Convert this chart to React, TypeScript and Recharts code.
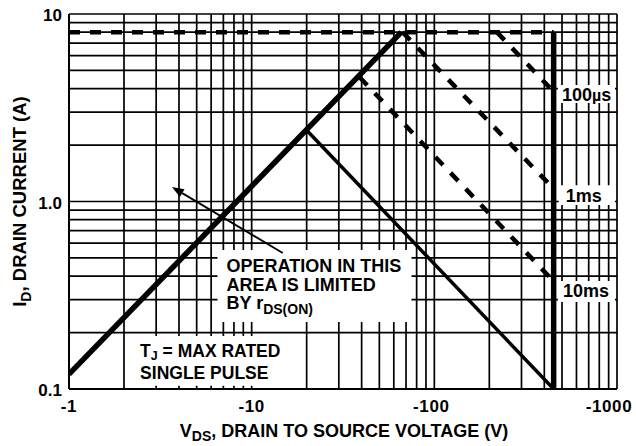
import React from "react";
import {
  LineChart,
  Line,
  XAxis,
  YAxis,
  CartesianGrid,
  ReferenceArea,
  ReferenceLine,
  Label,
} from "recharts";

const FONT = "'Liberation Sans', Arial, Helvetica, sans-serif";

// log grid ticks
const VDS_TICKS = [1, 2, 3, 4, 5, 6, 7, 8, 9, 10, 20, 30, 40, 50, 60, 70, 80, 90, 100, 200, 300, 400, 500, 600, 700, 800, 900, 1000];
const ID_TICKS = [0.1, 0.2, 0.3, 0.4, 0.5, 0.6, 0.7, 0.8, 0.9, 1, 2, 3, 4, 5, 6, 7, 8, 9, 10];
const VDS_LABELS: Record<number, string> = { 1: "-1", 10: "-10", 100: "-100", 1000: "-1000" };
const ID_LABELS: Record<number, string> = { 0.1: "0.1", 1: "1.0", 10: "10" };

// boundaries, |VDS| in volts and ID in amps
const LIMIT_V = [1, 450];
const LIMIT_I = [8, 8];
const BVDSS_V = [450, 450];
const BVDSS_I = [8, 0.1];
const RDSON_V = [1, 66];
const RDSON_I = [0.12, 8];
const DC_V = [20, 450];
const DC_I = [2.4, 0.1];
const P100US_V = [220, 450];
const P100US_I = [8, 3.85];
const P1MS_V = [67, 450];
const P1MS_I = [8, 1.17];
const P10MS_V = [39, 450];
const P10MS_I = [4.6, 0.375];

const toPoints = (v: number[], i: number[]) => v.map((x, k) => ({ v: x, i: i[k] }));

const txt = { fontFamily: FONT, fontWeight: 700, fill: "#000" };

function XTick(p: any) {
  const val = p.payload.value;
  const s = VDS_LABELS[val];
  if (!s) return null;
  const shift = val === 1000 ? -8 : val === 100 ? -3 : 0;
  return (
    <text x={p.x + shift} y={p.y + 3} dy="0.71em" textAnchor="middle" fontSize={17} letterSpacing={0.6} {...txt}>
      {s}
    </text>
  );
}

function YTick(p: any) {
  const val = p.payload.value;
  const s = ID_LABELS[val];
  if (!s) return null;
  return (
    <text x={p.x + 1} y={p.y + 1} dy="0.355em" textAnchor="end" fontSize={17} {...txt}>
      {s}
    </text>
  );
}

const boxLines = (lines: React.ReactNode[], dx: number, dy0: number, step: number, size: number) => (props: any) => {
  const vb = props.viewBox || props;
  return (
    <text fontSize={size} {...txt}>
      {lines.map((l, k) => (
        <tspan key={k} x={vb.x + dx} y={vb.y + dy0 + k * step}>
          {l}
        </tspan>
      ))}
    </text>
  );
};

function Arrow(p: any) {
  const { x1, y1, x2, y2 } = p;
  const a = Math.atan2(y2 - y1, x2 - x1);
  const len = 12;
  const w = 4.5;
  const bx = x2 - len * Math.cos(a);
  const by = y2 - len * Math.sin(a);
  const nx = -Math.sin(a) * w;
  const ny = Math.cos(a) * w;
  return (
    <g>
      <line x1={x1} y1={y1} x2={bx} y2={by} stroke="#000" strokeWidth={1.8} />
      <polygon points={`${x2},${y2} ${bx + nx},${by + ny} ${bx - nx},${by - ny}`} fill="#000" />
    </g>
  );
}

export default function App() {
  return (
    <div style={{ position: "absolute", left: 0, top: 0, background: "#fff" }}>
      <LineChart width={636} height={446} margin={{ top: 14, right: 19, left: 0, bottom: 27 }}>
        <CartesianGrid stroke="#000" strokeWidth={1.7} />
        <XAxis
          dataKey="v"
          type="number"
          scale="log"
          domain={[1, 1000]}
          ticks={VDS_TICKS}
          interval={0}
          allowDataOverflow
          tickLine={false}
          axisLine={{ stroke: "#000", strokeWidth: 2 }}
          tick={XTick}
          height={30}
        >
          <Label
            content={(props: any) => {
              const vb = props.viewBox;
              const cx = vb.x + vb.width / 2 + 1;
              return (
                <text x={cx} y={437} textAnchor="middle" fontSize={18} {...txt}>
                  V<tspan fontSize={14} dy={4}>DS</tspan>
                  <tspan dy={-4}>, DRAIN TO SOURCE VOLTAGE (V)</tspan>
                </text>
              );
            }}
          />
        </XAxis>
        <YAxis
          dataKey="i"
          type="number"
          scale="log"
          domain={[0.1, 10]}
          ticks={ID_TICKS}
          interval={0}
          allowDataOverflow
          tickLine={false}
          axisLine={{ stroke: "#000", strokeWidth: 2 }}
          tick={YTick}
          width={69}
        >
          <Label
            content={(props: any) => {
              const vb = props.viewBox;
              const cy = vb.y + vb.height / 2;
              return (
                <text
                  x={26}
                  y={cy}
                  transform={`rotate(-90 26 ${cy})`}
                  textAnchor="middle"
                  fontSize={18.5}
                  {...txt}
                >
                  I<tspan fontSize={14} dy={5}>D</tspan>
                  <tspan dy={-5}>, DRAIN CURRENT (A)</tspan>
                </text>
              );
            }}
          />
        </YAxis>

        <ReferenceArea
          x1={6.5}
          x2={75}
          y1={0.2275}
          y2={0.551}
          fill="#fff"
          fillOpacity={1}
          stroke="none"
          label={boxLines(
            [
              "OPERATION IN THIS",
              "AREA IS LIMITED",
              <>
                BY r<tspan fontSize={14} dy={5}>DS(ON)</tspan>
              </>,
            ],
            9,
            22,
            18.5,
            18
          )}
        />
        <ReferenceArea
          x1={2.08}
          x2={19.6}
          y1={0.104}
          y2={0.192}
          fill="#fff"
          fillOpacity={1}
          stroke="none"
          label={boxLines(
            [
              <>
                T<tspan fontSize={12.5} dy={3}>J</tspan>
                <tspan dy={-3}> = MAX RATED</tspan>
              </>,
              "SINGLE PULSE",
            ],
            13,
            21.5,
            21.5,
            17.5
          )}
        />
        <ReferenceArea
          x1={475}
          x2={975}
          y1={3.35}
          y2={4.18}
          fill="#fff"
          fillOpacity={1}
          stroke="none"
          label={boxLines(
            [
              <>
                100<tspan fontSize={16}>µ</tspan>s
              </>,
            ],
            4,
            16,
            0,
            18
          )}
        />
        <ReferenceArea
          x1={480}
          x2={975}
          y1={0.957}
          y2={1.22}
          fill="#fff"
          fillOpacity={1}
          stroke="none"
          label={boxLines(["1ms"], 7, 17, 0, 18)}
        />
        <ReferenceArea
          x1={475}
          x2={975}
          y1={0.291}
          y2={0.377}
          fill="#fff"
          fillOpacity={1}
          stroke="none"
          label={boxLines(["10ms"], 5, 16, 0, 18)}
        />

        <Line data={toPoints(LIMIT_V, LIMIT_I)} dataKey="i" stroke="#000" strokeWidth={4.5} strokeDasharray="11 10" dot={false} activeDot={false} isAnimationActive={false} />
        <Line data={toPoints(P100US_V, P100US_I)} dataKey="i" stroke="#000" strokeWidth={4.5} strokeDasharray="11 11" dot={false} activeDot={false} isAnimationActive={false} />
        <Line data={toPoints(P1MS_V, P1MS_I)} dataKey="i" stroke="#000" strokeWidth={4.5} strokeDasharray="11 11" dot={false} activeDot={false} isAnimationActive={false} />
        <Line data={toPoints(P10MS_V, P10MS_I)} dataKey="i" stroke="#000" strokeWidth={4.5} strokeDasharray="11 11" dot={false} activeDot={false} isAnimationActive={false} />
        <Line data={toPoints(DC_V, DC_I)} dataKey="i" stroke="#000" strokeWidth={3.5} dot={false} activeDot={false} isAnimationActive={false} />
        <Line data={toPoints(RDSON_V, RDSON_I)} dataKey="i" stroke="#000" strokeWidth={5.5} dot={false} activeDot={false} isAnimationActive={false} />
        <Line data={toPoints(BVDSS_V, BVDSS_I)} dataKey="i" stroke="#000" strokeWidth={5.5} dot={false} activeDot={false} isAnimationActive={false} />

        <ReferenceLine
          segment={[
            { x: 14.8, y: 0.531 },
            { x: 3.66, y: 1.195 },
          ]}
          shape={Arrow}
        />
      </LineChart>
    </div>
  );
}
